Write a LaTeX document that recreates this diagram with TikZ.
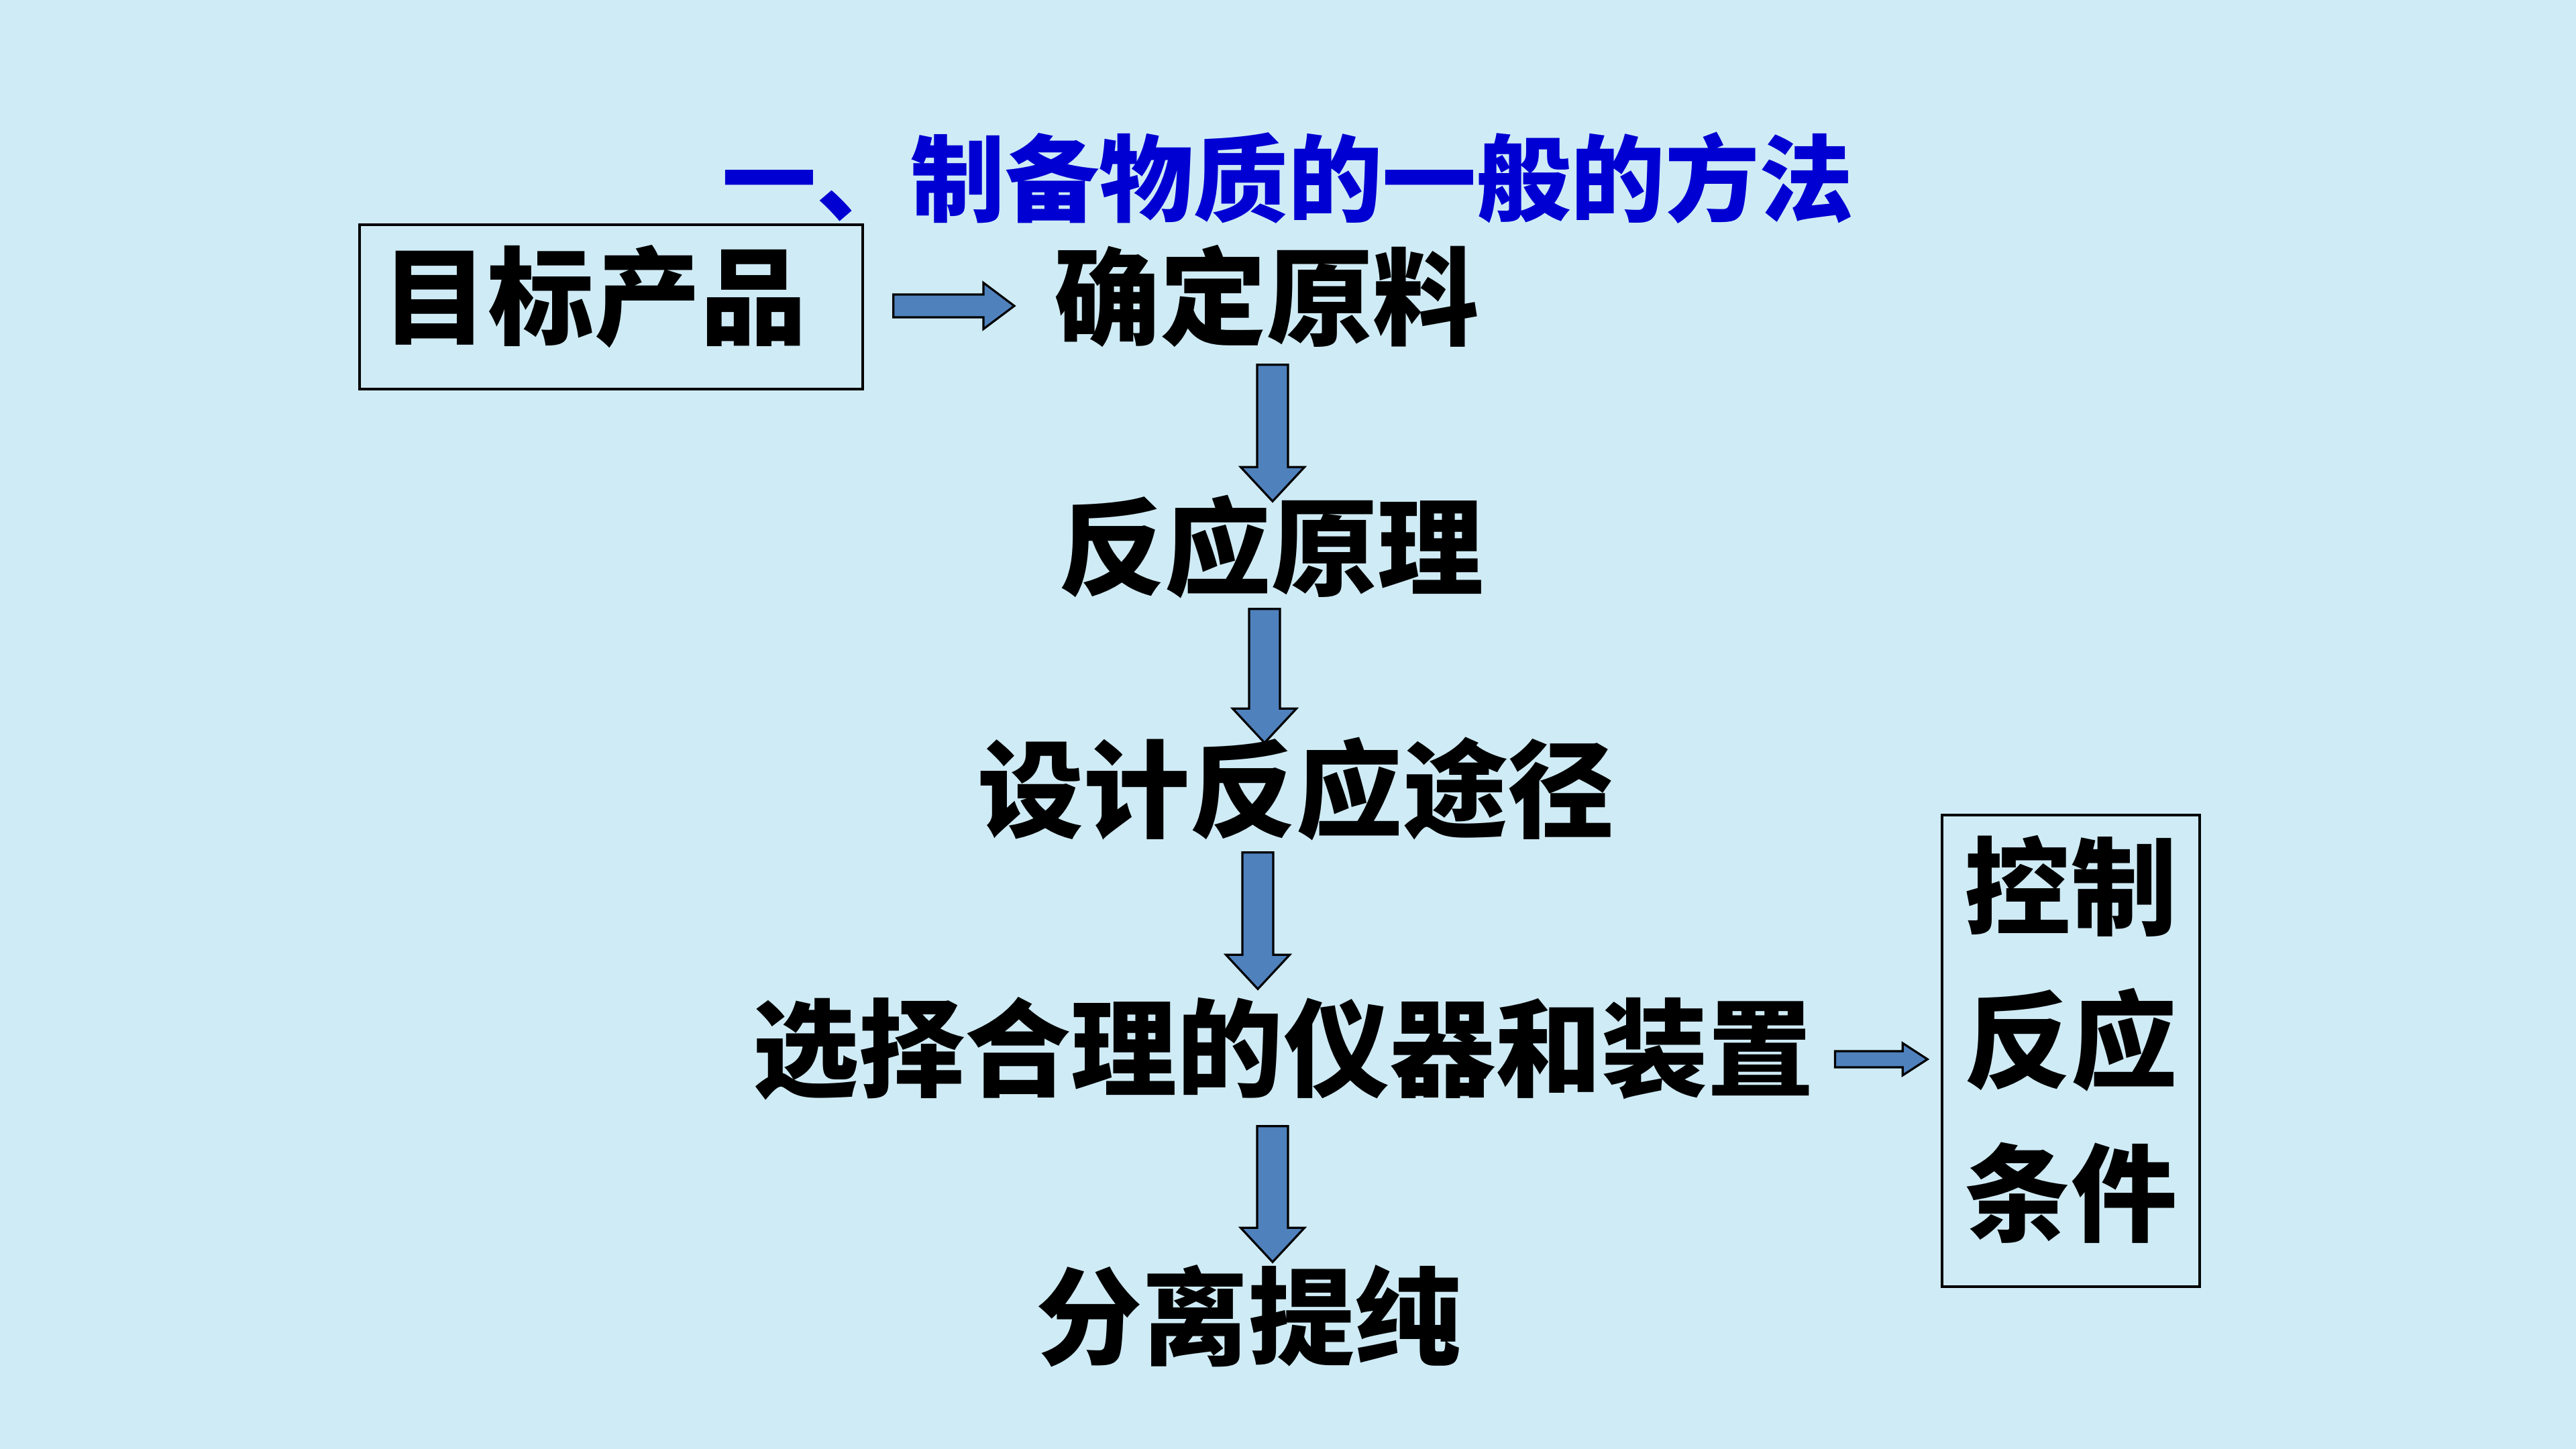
\documentclass[tikz,border=0pt]{standalone}
\usepackage{fontspec}
\newfontfamily\cjk{Noto Sans CJK SC}
\usetikzlibrary{calc}
\definecolor{bgblue}{RGB}{207,235,245}
\definecolor{arrowblue}{RGB}{79,129,189}
\definecolor{titleblue}{RGB}{0,0,210}

% block arrow pointing down: from, to, dx, gap at the top, shift of the tip
\newcommand{\downblock}[5]{%
	\draw[blockarrow] let \p1=($(#1.south)+(#3,-#4)$), \p2=($(#2.north)+(0,#5)$) in
		(\x1-0.23cm,\y1) -- (\x1-0.23cm,\y2+0.51cm) -- (\x1-0.475cm,\y2+0.51cm) -- (\x1,\y2)
		-- (\x1+0.475cm,\y2+0.51cm) -- (\x1+0.23cm,\y2+0.51cm) -- (\x1+0.23cm,\y1) -- cycle;}
% block arrow pointing right: from, to, start gap, end gap, dy, shaft, head, head length
\newcommand{\rightblock}[8]{%
	\draw[blockarrow] let \p1=($(#1.east)+(#3,#5)$), \p2=($(#2.west)+(-#4,0)$) in
		(\x1,\y1+#6cm) -- (\x2-#8cm,\y1+#6cm) -- (\x2-#8cm,\y1+#7cm) -- (\x2,\y1)
		-- (\x2-#8cm,\y1-#7cm) -- (\x2-#8cm,\y1-#6cm) -- (\x1,\y1-#6cm) -- cycle;}

\begin{document}
\begin{tikzpicture}[
		box/.style={draw=black, line width=1pt, inner sep=0pt},
		word/.style={inner sep=0pt, text height=1.39cm, text depth=0.19cm, font={\cjk\bfseries\fontsize{45pt}{54pt}\selectfont}},
		blockarrow/.style={fill=arrowblue, draw=black, line width=0.9pt, line join=miter},
		headline/.style={text=titleblue, inner sep=0pt, font={\cjk\bfseries\fontsize{40pt}{48pt}\selectfont}}]
	\useasboundingbox (0,0) rectangle (38.4,-21.6);
	\fill[bgblue] (0,0) rectangle (38.4,-21.6);
	\node[headline] (head) at (19.2,-2.65) {一、制备物质的一般的方法};
	\node[word, box, text depth=0.51cm, minimum width=7.5cm, minimum height=2.45cm] (tgt) at (9.11,-4.575) {目标产品\hspace*{0.5cm}};
	\node[word] (raw) at (18.88,-4.43) {确定原料};
	\node[word] (rxn) at (18.95,-8.15) {反应原理};
	\node[word] (route) at (19.32,-11.76) {设计反应途径};
	\node[word] (equip) at (19.13,-15.62) {选择合理的仪器和装置};
	\node[word] (sep) at (18.61,-19.62) {分离提纯};
	\node[box, align=center, minimum width=3.84cm, minimum height=7.03cm, font={\cjk\bfseries\fontsize{45pt}{65pt}\selectfont}] (ctrl) at (30.87,-15.665) {控制\\反应\\条件\par\vspace{0.34cm}};
	\rightblock{tgt}{raw}{0.44}{0.59}{0.015}{0.17}{0.345}{0.46}
	\downblock{raw}{rxn}{0.09}{0.21}{-0.12}
	\downblock{rxn}{route}{-0.10}{0.13}{-0.11}
	\downblock{route}{equip}{-0.57}{0.15}{0.08}
	\downblock{equip}{sep}{-0.16}{0.37}{0.01}
	\rightblock{equip}{ctrl}{0.31}{0.20}{-0.17}{0.12}{0.24}{0.37}
\end{tikzpicture}
\end{document}
